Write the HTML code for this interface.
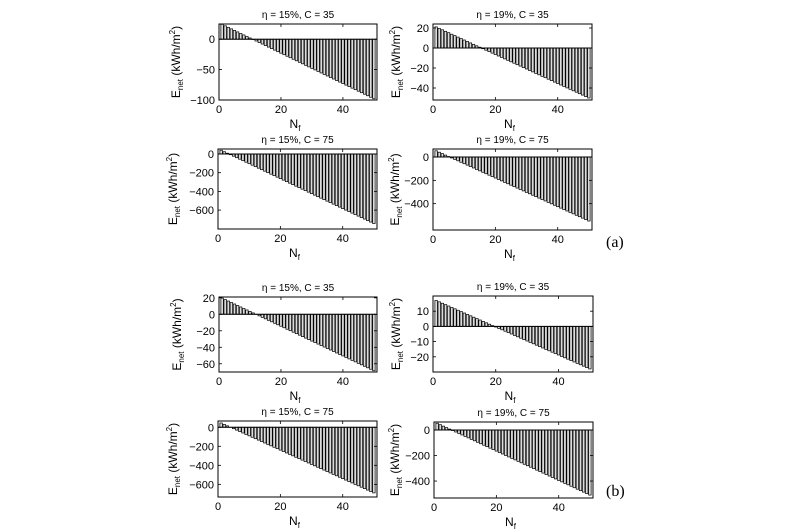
<!DOCTYPE html>
<html><head><meta charset="utf-8"><style>
html,body{margin:0;padding:0;background:#fff;}
svg{display:block;font-family:"Liberation Sans",sans-serif;}
</style></head><body>
<svg id="fig" width="797" height="532" viewBox="0 0 797 532">
<text x="606" y="247" font-family="Liberation Serif,serif" font-size="16">(a)</text>
<text x="606" y="496" font-family="Liberation Serif,serif" font-size="16">(b)</text>
</svg>
<script>
const categories = Array.from({length:50},(_,i)=>i+1);
const titles = ["η = 15%, C = 35","η = 19%, C = 35","η = 15%, C = 75","η = 19%, C = 75","η = 15%, C = 35","η = 19%, C = 35","η = 15%, C = 75","η = 19%, C = 75"];
const xTicks = [0,20,40];
const yTicksATL = [0,-50,-100];
const yTicksATR = [20,0,-20,-40];
const yTicksABL = [0,-200,-400,-600];
const yTicksABR = [0,-200,-400];
const yTicksBTL = [20,0,-20,-40,-60];
const yTicksBTR = [10,0,-10,-20];
const yTicksBBL = [0,-200,-400,-600];
const yTicksBBR = [0,-200,-400];
const valuesATL = [24.5,22,19.5,17,14.5,12,9.5,7,4.5,2,-0.5,-3,-5.5,-8,-10.5,-13,-15.5,-18,-20.5,-23,-25.5,-28,-30.5,-33,-35.5,-38,-40.5,-43,-45.5,-48,-50.5,-53,-55.5,-58,-60.5,-63,-65.5,-68,-70.5,-73,-75.5,-78,-80.5,-83,-85.5,-88,-90.5,-93,-95.5,-98];
const valuesATR = [21.1,19.6,18.2,16.7,15.3,13.8,12.4,10.9,9.5,8.0,6.6,5.1,3.7,2.2,0.8,-0.7,-2.2,-3.6,-5.1,-6.5,-8.0,-9.4,-10.9,-12.3,-13.8,-15.2,-16.7,-18.1,-19.6,-21.0,-22.5,-23.9,-25.4,-26.8,-28.3,-29.7,-31.2,-32.6,-34.1,-35.5,-37.0,-38.4,-39.9,-41.3,-42.8,-44.2,-45.7,-47.1,-48.6,-50.0];
const valuesABL = [40,24,8,-8,-24,-40,-56,-72,-88,-104,-120,-136,-152,-168,-184,-200,-216,-232,-248,-264,-280,-296,-312,-328,-344,-360,-376,-392,-408,-424,-440,-456,-472,-488,-504,-520,-536,-552,-568,-584,-600,-616,-632,-648,-664,-680,-696,-712,-728,-744];
const valuesABR = [53.7,41.4,29.1,16.8,4.5,-7.8,-20.1,-32.4,-44.7,-57,-69.3,-81.6,-93.9,-106.2,-118.5,-130.8,-143.1,-155.4,-167.7,-180,-192.3,-204.6,-216.9,-229.2,-241.5,-253.8,-266.1,-278.4,-290.7,-303,-315.3,-327.6,-339.9,-352.2,-364.5,-376.8,-389.1,-401.4,-413.7,-426,-438.3,-450.6,-462.9,-475.2,-487.5,-499.8,-512.1,-524.4,-536.7,-549];
const valuesBTL = [19.7,17.9,16.1,14.3,12.5,10.7,8.9,7.1,5.3,3.5,1.7,-0.1,-1.9,-3.7,-5.5,-7.3,-9.1,-10.9,-12.7,-14.5,-16.3,-18.1,-19.9,-21.7,-23.5,-25.3,-27.1,-28.9,-30.7,-32.5,-34.3,-36.1,-37.9,-39.7,-41.5,-43.3,-45.1,-46.9,-48.7,-50.5,-52.3,-54.1,-55.9,-57.7,-59.5,-61.3,-63.1,-64.9,-66.7,-68.5];
const valuesBTR = [17.08,16.16,15.24,14.32,13.4,12.48,11.56,10.64,9.72,8.8,7.88,6.96,6.04,5.12,4.2,3.28,2.36,1.44,0.52,-0.4,-1.32,-2.24,-3.16,-4.08,-5,-5.92,-6.84,-7.76,-8.68,-9.6,-10.52,-11.44,-12.36,-13.28,-14.2,-15.12,-16.04,-16.96,-17.88,-18.8,-19.72,-20.64,-21.56,-22.48,-23.4,-24.32,-25.24,-26.16,-27.08,-28];
const valuesBBL = [45,30,15,0,-15,-30,-45,-60,-75,-90,-105,-120,-135,-150,-165,-180,-195,-210,-225,-240,-255,-270,-285,-300,-315,-330,-345,-360,-375,-390,-405,-420,-435,-450,-465,-480,-495,-510,-525,-540,-555,-570,-585,-600,-615,-630,-645,-660,-675,-690];
const valuesBBR = [53.5,42,30.5,19,7.5,-4,-15.5,-27,-38.5,-50,-61.5,-73,-84.5,-96,-107.5,-119,-130.5,-142,-153.5,-165,-176.5,-188,-199.5,-211,-222.5,-234,-245.5,-257,-268.5,-280,-291.5,-303,-314.5,-326,-337.5,-349,-360.5,-372,-383.5,-395,-406.5,-418,-429.5,-441,-452.5,-464,-475.5,-487,-498.5,-510];

const NS="http://www.w3.org/2000/svg";
const svg=document.getElementById('fig');
function mk(tag,attrs,parent){const e=document.createElementNS(NS,tag);for(const k in attrs)e.setAttribute(k,attrs[k]);(parent||svg).appendChild(e);return e;}

const panels=[
 {id:'a-tl',box:[219,24,377,100],ylim:[-100,25],ticks:yTicksATL,vals:valuesATL,t:0,lx:39},
 {id:'a-tr',box:[433,24,592,100],ylim:[-52,24],ticks:yTicksATR,vals:valuesATR,t:1,lx:33},
 {id:'a-bl',box:[218,149,377,229],ylim:[-802,53],ticks:yTicksABL,vals:valuesABL,t:2,lx:41},
 {id:'a-br',box:[433,149,592,230],ylim:[-626,69],ticks:yTicksABR,vals:valuesABR,t:3,lx:34},
 {id:'b-tl',box:[219,297,377,372],ylim:[-70,21],ticks:yTicksBTL,vals:valuesBTL,t:4,lx:38},
 {id:'b-tr',box:[433,296,593,372],ylim:[-30,20],ticks:yTicksBTR,vals:valuesBTR,t:5,lx:33},
 {id:'b-bl',box:[218,421,377,497],ylim:[-733,66],ticks:yTicksBBL,vals:valuesBBL,t:6,lx:41},
 {id:'b-br',box:[434,422,593,498],ylim:[-533,63],ticks:yTicksBBR,vals:valuesBBR,t:7,lx:35}
];

panels.forEach(p=>{
 const [x0,y0,x1,y1]=p.box;
 const g=mk('g',{});
 
 
 const xs=v=>x0+(v-0)/(51-0)*(x1-x0);
 const ys=v=>y1-(v-p.ylim[0])/(p.ylim[1]-p.ylim[0])*(y1-y0);
 const bw=(x1-x0)/51*0.8;
 const y0v=ys(0);
 categories.forEach((c,i)=>{
  const v=p.vals[i];
  const top=Math.min(ys(v),y0v),h=Math.abs(ys(v)-y0v);
  const r=mk('rect',{x:xs(c)-bw/2,y:top,width:bw,height:Math.max(h,0.01),fill:'#dcdcdc',stroke:'#000','stroke-width':0.7},g);
  
  
 });
 const base=mk('line',{x1:x0,x2:x1,y1:y0v,y2:y0v,stroke:'#000','stroke-width':1},g);
 
 
 const frame=mk('rect',{x:x0,y:y0,width:x1-x0,height:y1-y0,fill:'none',stroke:'#000','stroke-width':1},g);
 
 
 xTicks.forEach(t=>{
  const x=xs(t);
  mk('line',{x1:x,x2:x,y1:y1,y2:y1-3,stroke:'#000','stroke-width':0.8},g);
  mk('line',{x1:x,x2:x,y1:y0,y2:y0+3,stroke:'#000','stroke-width':0.8},g);
  const tx=mk('text',{x:x,y:y1+13,'text-anchor':'middle','font-size':11},g);
  tx.textContent=t;
  
  
 });
 p.ticks.forEach(t=>{
  const y=ys(t);
  mk('line',{x1:x0,x2:x0+3,y1:y,y2:y,stroke:'#000','stroke-width':0.8},g);
  mk('line',{x1:x1,x2:x1-3,y1:y,y2:y,stroke:'#000','stroke-width':0.8},g);
  const s=(t<0?'\u2212'+(-t):''+t);
  const tx=mk('text',{x:x0-4,y:y+4,'text-anchor':'end','font-size':11},g);
  tx.textContent=s;
  
  
 });
 const ti=mk('text',{x:(x0+x1)/2,y:y0-6,'text-anchor':'middle','font-size':10},g);
 ti.textContent=titles[p.t];
 
 
 const xl=mk('text',{x:(x0+x1)/2-3,y:y1+28,'text-anchor':'middle','font-size':12},g);
 xl.innerHTML='N<tspan font-size="8" dy="3">f</tspan>';
 
 
 const cx=x0-p.lx,cy=(y0+y1)/2;
 const yl=mk('text',{x:cx,y:cy,'text-anchor':'middle','font-size':12,transform:`rotate(-90 ${cx} ${cy})`},g);
 yl.innerHTML='E<tspan font-size="8" dy="3">net</tspan><tspan dy="-3"> (kWh/m</tspan><tspan font-size="8" dy="-5">2</tspan><tspan dy="5">)</tspan>';
 
 
});
</script>
</body></html>
